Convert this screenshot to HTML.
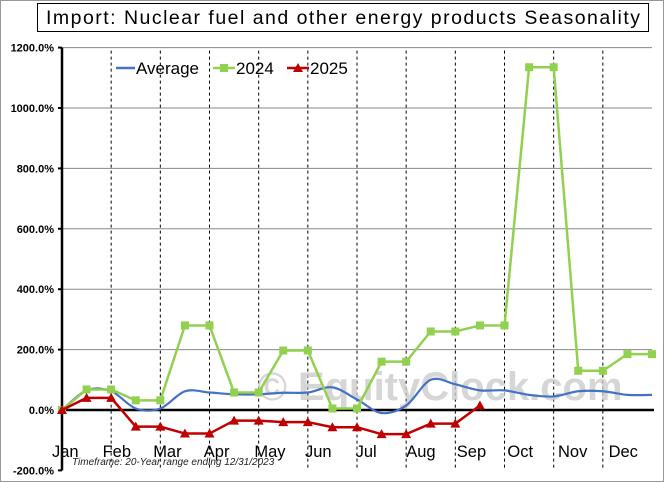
<!DOCTYPE html>
<html><head><meta charset="utf-8"><style>
body{margin:0;background:#fff}
svg{display:block;font-family:"Liberation Sans",sans-serif}
</style></head><body>
<svg width="664" height="482" viewBox="0 0 664 482">
<rect x="0.5" y="0.5" width="663" height="481" fill="#fff" stroke="#999"/>
<rect x="37.5" y="3.5" width="611" height="28" fill="#fff" stroke="#000"/>
<text x="343" y="24" font-size="19.5" text-anchor="middle" textLength="594">Import: Nuclear fuel and other energy products Seasonality</text>
<g id="grid"></g>
<text x="440" y="400" font-size="40" font-weight="bold" fill="#ccc" opacity="0.8" text-anchor="middle">© EquityClock.com</text>
<g id="series"></g>
<g id="legend">
<line x1="116" y1="68" x2="135" y2="68" stroke="#4472c4" stroke-width="2.5"/>
<text x="136" y="74" font-size="17">Average</text>
<line x1="213" y1="68" x2="235" y2="68" stroke="#92d050" stroke-width="2.5"/>
<rect x="220" y="64" width="8" height="8" fill="#92d050"/>
<text x="236" y="74" font-size="17">2024</text>
<line x1="287" y1="68" x2="309" y2="68" stroke="#c00000" stroke-width="2.5"/>
<polygon points="298,63 303,72 293,72" fill="#c00000"/>
<text x="310" y="74" font-size="17">2025</text>
</g>
<text x="72" y="465" font-size="10" font-style="italic" fill="#222">Timeframe: 20-Year range ending 12/31/2023</text>
</svg>
<script>
const months=["Jan","Feb","Mar","Apr","May","Jun","Jul","Aug","Sep","Oct","Nov","Dec"];
const yTicks=[-200,0,200,400,600,800,1000,1200];
const avgValues=[0,65,62,5,5,62,58,52,52,57,58,75,35,-10,15,100,85,65,65,50,45,62,62,50,50];
const values2024=[0,68,68,32,32,280,280,58,58,197,197,5,5,160,160,260,260,280,280,1135,1135,130,130,185,185];
const values2025=[0,40,40,-55,-55,-78,-78,-35,-35,-40,-40,-57,-57,-80,-80,-45,-45,15];
const NS="http://www.w3.org/2000/svg";
const x0=62,x1=652,yZero=410,pxPer=0.302;
const xs=i=>x0+i*(x1-x0)/24;
const ys=v=>yZero-v*pxPer;
function mk(t,a,p){const e=document.createElementNS(NS,t);for(const k in a)e.setAttribute(k,a[k]);p.appendChild(e);return e;}
const grid=document.getElementById('grid'),ser=document.getElementById('series');
yTicks.forEach(v=>{
 const y=ys(v);
 if(v!==0&&v!==-200){const l=mk('line',{x1:x0,x2:x1,y1:y,y2:y,stroke:'#888','stroke-width':1},grid);
 
 }
 mk('line',{x1:x0-4,x2:x0,y1:y,y2:y,stroke:'#000','stroke-width':2},grid);
 const t=mk('text',{x:x0-8,y:y+4,'font-size':11,'font-weight':'bold','text-anchor':'end'},grid);
 t.textContent=v.toFixed(1)+'%';
 
 
});
months.forEach((m,i)=>{
 const x=xs(i*2);
 if(i>0){const l=mk('line',{x1:x,x2:x,y1:ys(1200)+3,y2:ys(-200),stroke:'#000','stroke-width':1,'stroke-dasharray':'3,3'},grid);
 
 }
 const t=mk('text',{x:52+i*50.6,y:457,'font-size':16.5},grid);
 t.textContent=m;
 
 
});
const ya=mk('line',{x1:x0,x2:x0,y1:ys(1200),y2:ys(-200),stroke:'#000','stroke-width':2.5},grid);


const xa=mk('line',{x1:x0,x2:x1+2,y1:yZero,y2:yZero,stroke:'#000','stroke-width':2.5},grid);


let pts=avgValues.map((v,i)=>[xs(i),ys(v)]);
let d='M'+pts[0][0]+','+pts[0][1];
for(let i=0;i<pts.length-1;i++){const p0=pts[i-1]||pts[i],p1=pts[i],p2=pts[i+1],p3=pts[i+2]||p2;
 d+=` C${p1[0]+(p2[0]-p0[0])/6},${p1[1]+(p2[1]-p0[1])/6} ${p2[0]-(p3[0]-p1[0])/6},${p2[1]-(p3[1]-p1[1])/6} ${p2[0]},${p2[1]}`;}
const ap=mk('path',{d:d,fill:'none',stroke:'#4472c4','stroke-width':2.2},ser);


const l24=mk('polyline',{points:values2024.map((v,i)=>xs(i)+','+ys(v)).join(' '),fill:'none',stroke:'#92d050','stroke-width':2.5},ser);


values2024.forEach((v,i)=>{const r=mk('rect',{x:xs(i)-4,y:ys(v)-4,width:8,height:8,fill:'#92d050'},ser);
 
 });
const l25=mk('polyline',{points:values2025.map((v,i)=>xs(i)+','+ys(v)).join(' '),fill:'none',stroke:'#c00000','stroke-width':2.5},ser);


values2025.forEach((v,i)=>{const x=xs(i),y=ys(v);const p=mk('polygon',{points:`${x},${y-5} ${x+5},${y+4} ${x-5},${y+4}`,fill:'#c00000'},ser);
 
 });
</script>
</body></html>
